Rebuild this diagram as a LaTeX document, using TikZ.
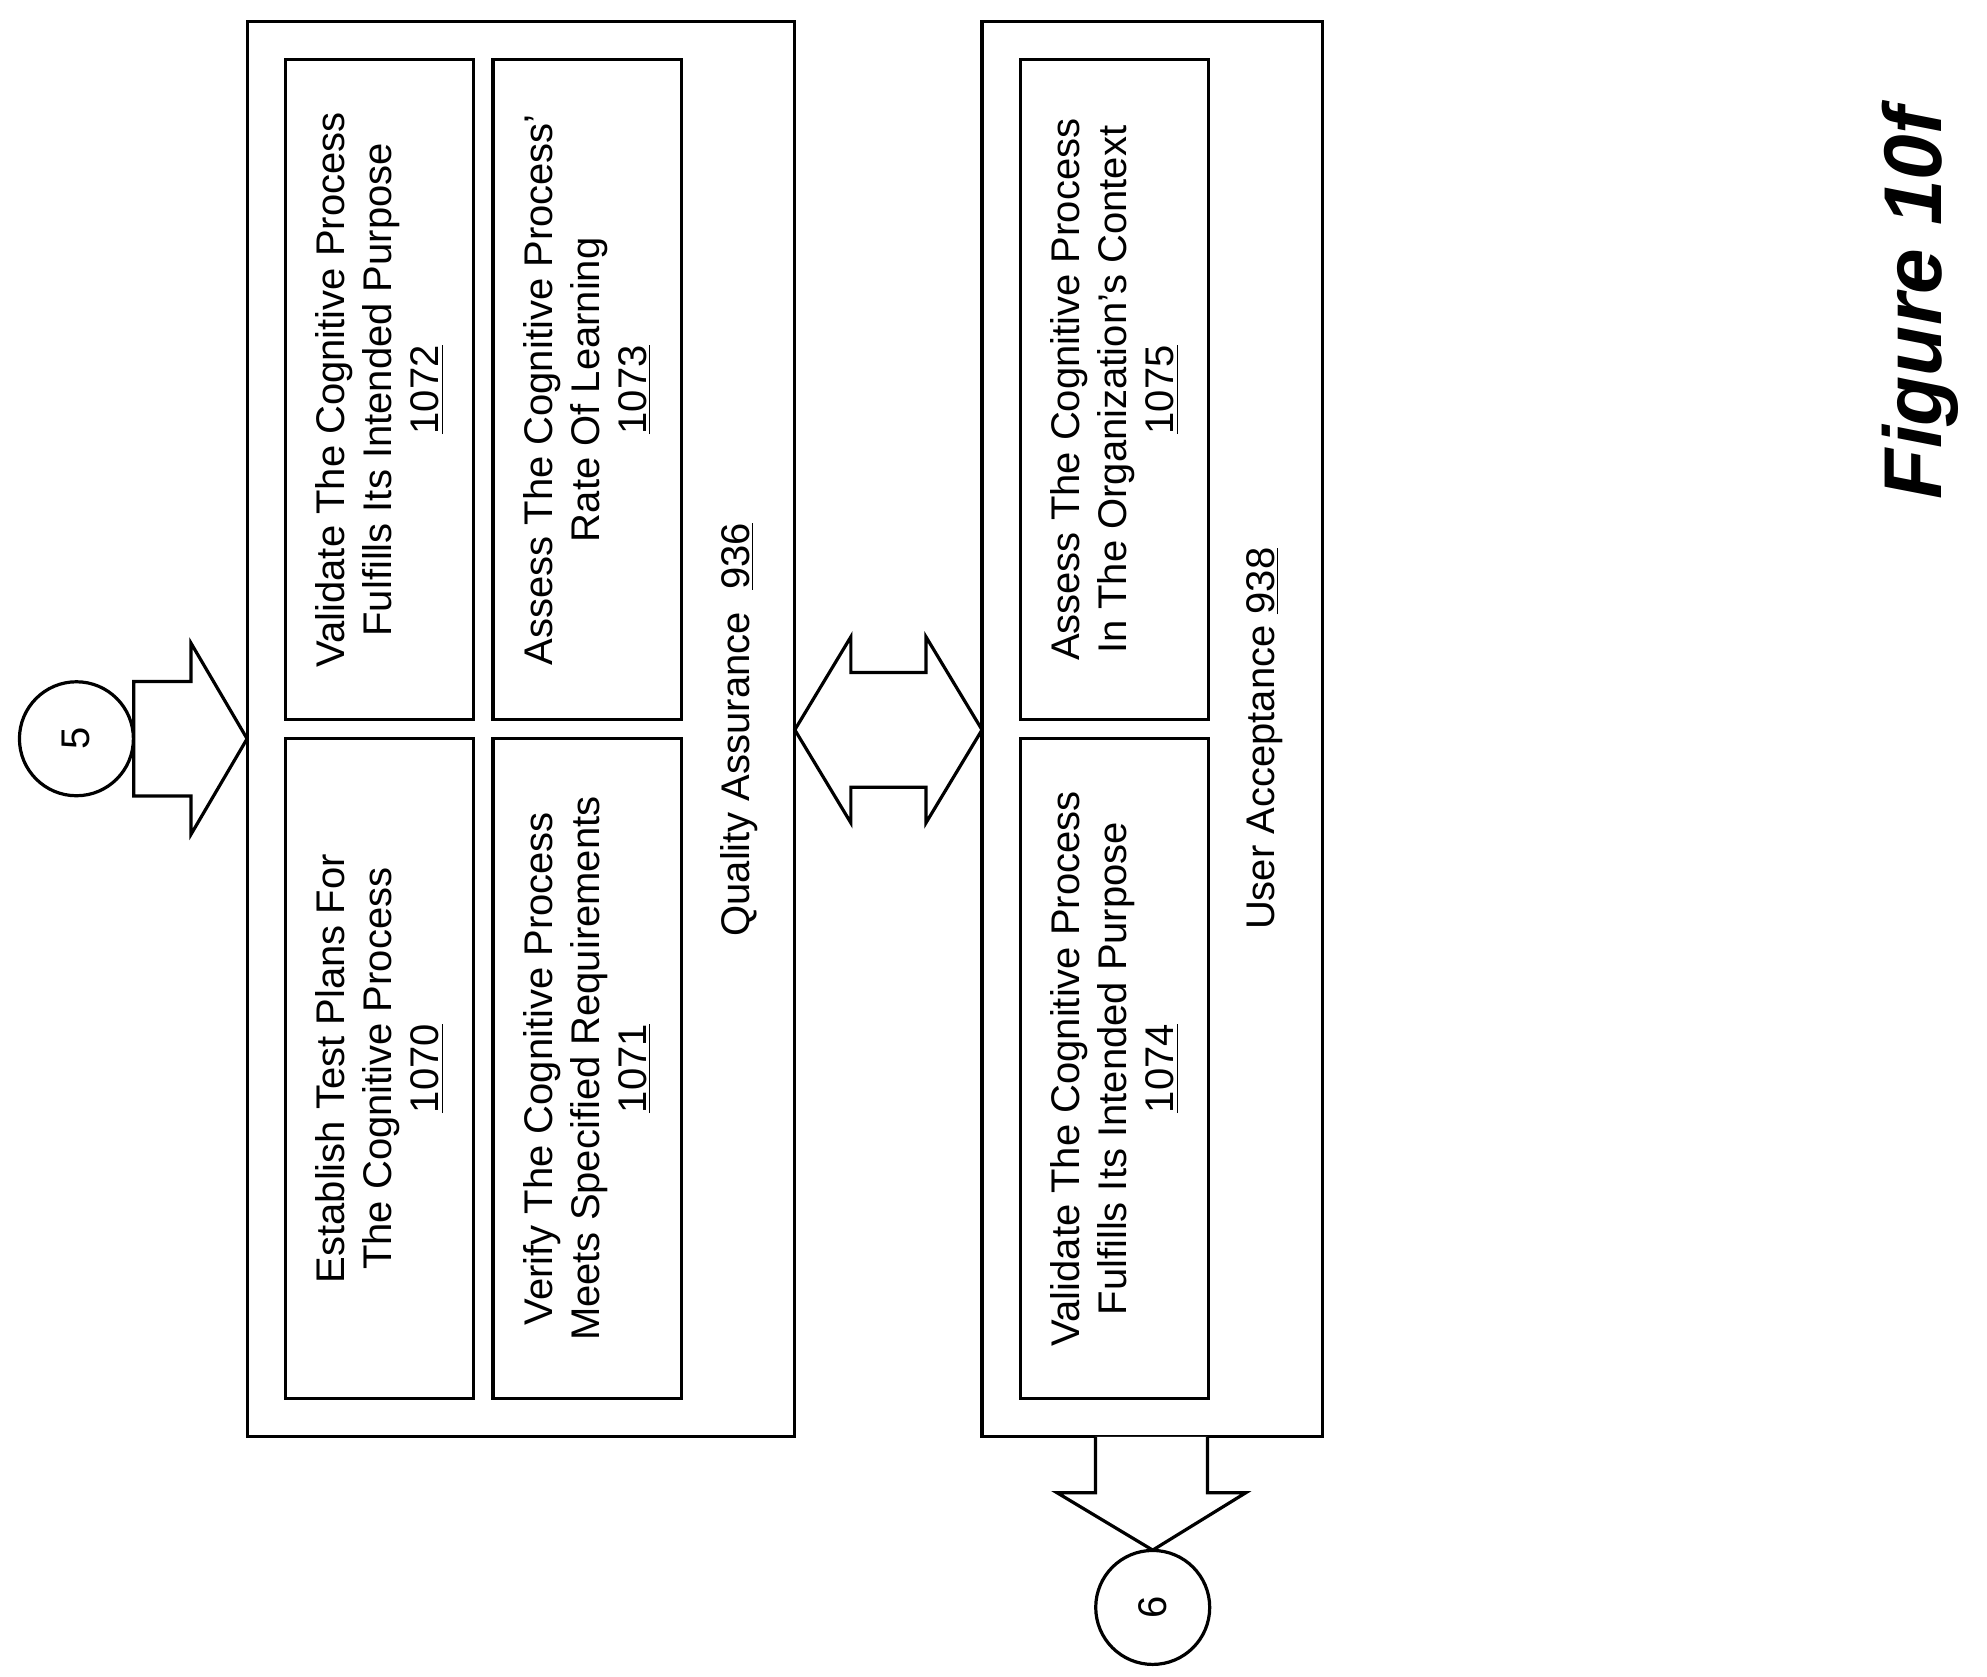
\documentclass[tikz,border=0pt]{standalone}
\usepackage{fontspec}
\setmainfont{Liberation Sans}
\begin{document}
\begin{tikzpicture}[x=0.637pt,y=-0.637pt,line width=1.6pt,
 box/.style={draw,rotate=90,align=center,inner sep=0pt,font=\fontsize{20}{23.5}\selectfont},
 outer/.style={draw,rotate=90,inner sep=0pt},
 lbl/.style={rotate=90,font=\fontsize{20}{23.5}\selectfont},
 circ/.style={draw,circle,minimum size=57pt,inner sep=0pt,font=\fontsize{20}{24}\selectfont}]
\useasboundingbox (0,0) rectangle (1560,1316);
\node[outer,minimum width=1111*0.637pt,minimum height=430*0.637pt] (qa) at (409,572.5) {};
\node[outer,minimum width=1111*0.637pt,minimum height=267*0.637pt] (ua) at (904.5,572.5) {};
\tikzset{bs/.style={box,minimum width=518*0.637pt,minimum height=148*0.637pt}}
\node[bs] (b1070) at (298,839) {Establish Test Plans For\\The Cognitive Process\\\underline{1070}};
\node[bs] (b1071) at (461,839) {Verify The Cognitive Process\\Meets Specified Requirements\\\underline{1071}};
\node[bs] (b1072) at (298,306) {Validate The Cognitive Process\\Fulfills Its Intended Purpose\\\underline{1072}};
\node[bs] (b1073) at (461,306) {Assess The Cognitive Process'\\Rate Of Learning\\\underline{1073}};
\node[bs] (b1074) at (875,839) {Validate The Cognitive Process\\Fulfills Its Intended Purpose\\\underline{1074}};
\node[bs] (b1075) at (875,306) {Assess The Cognitive Process\\In The Organization's Context\\\underline{1075}};
\node[lbl] (lqa) at (580,573) {Quality Assurance\ \ \underline{936}};
\node[lbl] (lua) at (993,580) {User Acceptance \underline{938}};
\node[circ] (c5) at (60,580) {\rotatebox{90}{5}};
\node[circ] (c6) at (905,1262) {\rotatebox{90}{6}};
% arrow from 5
\draw[fill=white] (105,535) -- (150,535) -- (150,505) -- (194,580) -- (150,655) -- (150,625) -- (105,625) -- cycle;
% double arrow
\draw[fill=white] (624,573) -- (668,500) -- (668,528) -- (727,528) -- (727,500) -- (771,573) -- (727,646) -- (727,618) -- (668,618) -- (668,646) -- cycle;
% arrow to 6
\draw[fill=white] (860,1128) -- (860,1172) -- (830,1172) -- (905,1217) -- (978,1172) -- (948,1172) -- (948,1128);
\node[rotate=90,font=\fontsize{41}{45}\bfseries\itshape\selectfont] (fig) at (1508,238) {Figure 10f};
\end{tikzpicture}
\end{document}
